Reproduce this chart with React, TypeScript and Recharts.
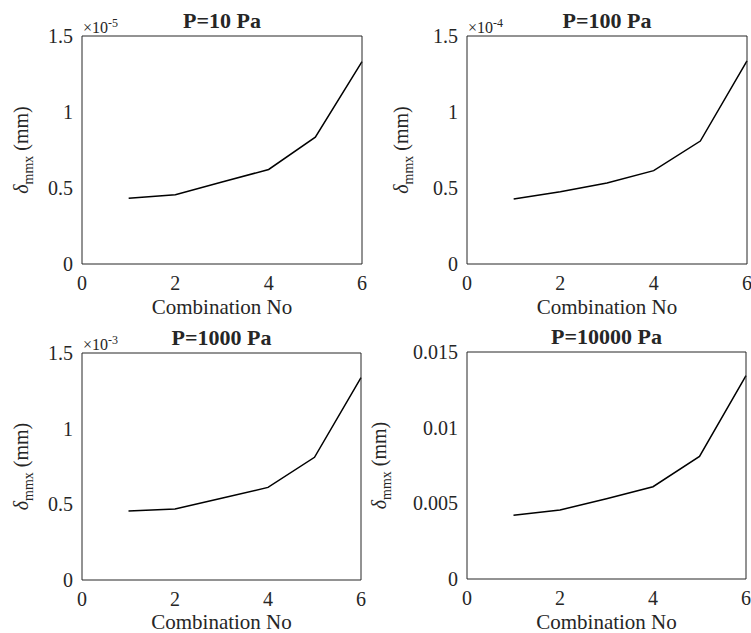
import React from 'react'
import { LineChart, Line, XAxis, YAxis, Label } from 'recharts'

// combination numbers on the x axis
const combos = [1, 2, 3, 4, 5, 6]

// max deflection per combination (axis mantissa)
const p10 = [0.432, 0.456, 0.539, 0.622, 0.834, 1.332] // x 1e-5
const p100 = [0.428, 0.476, 0.533, 0.614, 0.809, 1.337] // x 1e-4
const p1000 = [0.456, 0.469, 0.54, 0.612, 0.811, 1.337] // x 1e-3
const p10000 = [0.00421, 0.00456, 0.0053, 0.0061, 0.0081, 0.01344]

const xTicks = [0, 2, 4, 6]
const mantissaTicks = [0, 0.5, 1, 1.5]
const absTicks = [0, 0.005, 0.01, 0.015]

const FONT = '"Liberation Serif", "Times New Roman", serif'
const INK = '#262626'
const Y_W = 60
const X_H = 50

type Panel = {
  title: string
  values: number[]
  yMax: number
  yTicks: number[]
  exp?: string
  left: number
  top: number
  width: number
  height: number
  margin: { top: number; right: number; bottom: number; left: number }
  yLabelX: number
}

const PANELS: Panel[] = [
  {
    title: 'P=10 Pa', values: p10, yMax: 1.5, yTicks: mantissaTicks, exp: '-5',
    left: 0, top: 0, width: 375, height: 324,
    margin: { top: 36, right: 13, bottom: 10, left: 22 }, yLabelX: 28,
  },
  {
    title: 'P=100 Pa', values: p100, yMax: 1.5, yTicks: mantissaTicks, exp: '-4',
    left: 375, top: 0, width: 376, height: 324,
    margin: { top: 36, right: 4, bottom: 10, left: 32 }, yLabelX: 33,
  },
  {
    title: 'P=1000 Pa', values: p1000, yMax: 1.5, yTicks: mantissaTicks, exp: '-3',
    left: 0, top: 316, width: 375, height: 317,
    margin: { top: 37, right: 14, bottom: 3, left: 22 }, yLabelX: 28,
  },
  {
    title: 'P=10000 Pa', values: p10000, yMax: 0.015, yTicks: absTicks,
    left: 360, top: 316, width: 391, height: 317,
    margin: { top: 36, right: 5, bottom: 4, left: 47 }, yLabelX: 26,
  },
]

const XTick = (props: any) => {
  const { x, y, payload } = props
  return (
    <text x={x} y={y + 14} textAnchor="middle" fontSize={20} fontFamily={FONT} fill={INK}>
      {payload.value}
    </text>
  )
}

const YTick = (props: any) => {
  const { x, y, payload } = props
  return (
    <text x={x} y={y + 7} textAnchor="end" fontSize={20} fontFamily={FONT} fill={INK}>
      {payload.value}
    </text>
  )
}

const SubPlot = ({ p }: { p: Panel }) => {
  const data = combos.map((c, i) => ({ x: c, y: p.values[i] }))
  const plotLeft = p.margin.left + Y_W
  const plotRight = p.width - p.margin.right
  const plotTop = p.margin.top
  const plotBottom = p.height - p.margin.bottom - X_H
  // keep the bottom row's axis title inside the page
  const xLabelY = Math.min(plotBottom + X_H, p.height - 4.5)

  // title, exponent and axis titles, drawn in the chart's svg
  const annotations = () => (
    <g fontFamily={FONT} fill={INK}>
      <text
        x={(plotLeft + plotRight) / 2}
        y={plotTop - 8}
        textAnchor="middle"
        fontWeight="bold"
        fontSize={22}
      >
        {p.title}
      </text>
      {p.exp && (
        <text x={plotLeft + 1} y={plotTop - 3} fontSize={16}>
          ×10
          <tspan dy={-6} fontSize={12}>
            {p.exp}
          </tspan>
        </text>
      )}
      <text
        x={(plotLeft + plotRight) / 2}
        y={xLabelY}
        textAnchor="middle"
        fontSize={21}
      >
        Combination No
      </text>
      <text
        transform={`translate(${p.yLabelX},${(plotTop + plotBottom) / 2}) rotate(-90)`}
        textAnchor="middle"
        fontSize={20}
      >
        <tspan fontStyle="italic">δ</tspan>
        <tspan fontSize={14} dy={5}>
          mmx
        </tspan>
        <tspan dy={-5}>{' (mm)'}</tspan>
      </text>
    </g>
  )

  return (
    <div style={{ position: 'absolute', left: p.left, top: p.top }}>
      <LineChart width={p.width} height={p.height} data={data} margin={p.margin}>
        {/* bottom axis with labels */}
        <XAxis
          dataKey="x"
          type="number"
          domain={[0, 6]}
          ticks={xTicks}
          interval={0}
          height={X_H}
          tickLine={false}
          tickSize={6}
          tickMargin={6}
          tick={<XTick />}
          axisLine={{ stroke: INK }}
        />
        {/* inward ticks on the bottom edge */}
        <XAxis
          xAxisId="bIn"
          dataKey="x"
          type="number"
          domain={[0, 6]}
          ticks={xTicks}
          interval={0}
          mirror
          tick={false}
          tickSize={3}
          axisLine={false}
          tickLine={{ stroke: INK }}
        />
        {/* top edge of the box */}
        <XAxis
          xAxisId="top"
          orientation="top"
          dataKey="x"
          type="number"
          domain={[0, 6]}
          ticks={xTicks}
          interval={0}
          mirror
          tick={false}
          tickSize={3}
          axisLine={{ stroke: INK }}
          tickLine={{ stroke: INK }}
        />
        <YAxis
          type="number"
          domain={[0, p.yMax]}
          ticks={p.yTicks}
          interval={0}
          width={Y_W}
          tickLine={false}
          tickSize={6}
          tickMargin={3}
          tick={<YTick />}
          axisLine={{ stroke: INK }}
        >
          <Label content={annotations} />
        </YAxis>
        <YAxis
          yAxisId="lIn"
          type="number"
          domain={[0, p.yMax]}
          ticks={p.yTicks}
          interval={0}
          mirror
          tick={false}
          tickSize={3}
          axisLine={false}
          tickLine={{ stroke: INK }}
        />
        <YAxis
          yAxisId="right"
          orientation="right"
          type="number"
          domain={[0, p.yMax]}
          ticks={p.yTicks}
          interval={0}
          mirror
          tick={false}
          tickSize={3}
          axisLine={{ stroke: INK }}
          tickLine={{ stroke: INK }}
        />
        <Line
          type="linear"
          dataKey="y"
          stroke="#000"
          strokeWidth={1.5}
          dot={false}
          isAnimationActive={false}
        />
      </LineChart>
    </div>
  )
}

export default function App() {
  return (
    <div
      style={{
        position: 'absolute',
        left: 0,
        top: 0,
        width: 751,
        height: 633,
        background: '#fff',
        fontFamily: FONT,
        overflow: 'hidden',
      }}
    >
      {PANELS.map((p) => (
        <SubPlot key={p.title} p={p} />
      ))}
    </div>
  )
}
